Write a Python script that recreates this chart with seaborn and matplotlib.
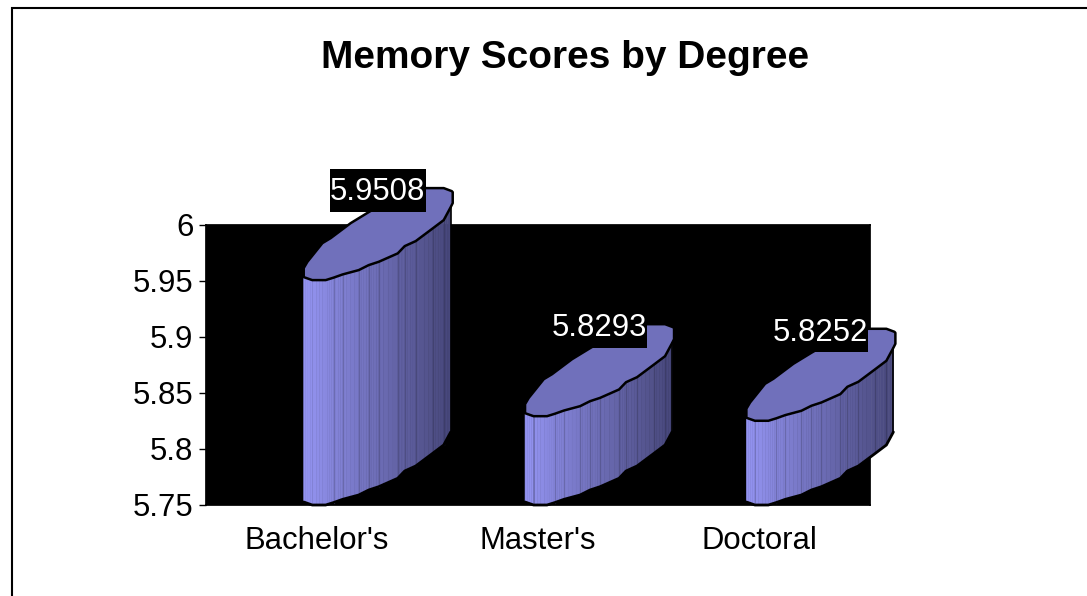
import matplotlib
matplotlib.use('Agg')

import matplotlib.pyplot as plt
from matplotlib.patches import Polygon, Rectangle
from matplotlib.colors import to_rgb
import numpy as np
import pandas as pd
import seaborn as sns

degrees = ["Bachelor's", "Master's", "Doctoral"]
scores = [5.9508, 5.8293, 5.8252]
score_labels = ["5.9508", "5.8293", "5.8252"]
y_ticks = [5.75, 5.8, 5.85, 5.9, 5.95, 6]
y_tick_labels = ["5.75", "5.8", "5.85", "5.9", "5.95", "6"]

sns.set_theme(style="white")
plt.rcParams['font.family'] = ['Liberation Sans', 'DejaVu Sans']

W, H = 1087, 596
fig = plt.figure(figsize=(W / 100, H / 100), dpi=100, facecolor='white')
ax = fig.add_axes([206 / W, 1 - 505 / H, 664 / W, 280 / H])

df = pd.DataFrame({"degree": degrees, "score": scores})
sns.barplot(data=df, x="degree", y="score", color="black", saturation=1, width=0.66, linewidth=0, edgecolor="black", ax=ax)
ax.set_xlim(-0.5, 2.5)
ax.set_ylim(5.75, 6)
ax.set_facecolor('black')
ax.set_xlabel("")
ax.set_ylabel("")
ax.set_yticks(y_ticks, y_tick_labels)
ax.tick_params(axis='y', left=True, length=5, width=1, color='black', labelsize=22.4, pad=4, labelcolor='black')
ax.tick_params(axis='x', bottom=False, labelsize=22.4, pad=9, labelcolor='black')
for s in ax.spines.values():
    s.set_color('black')

# pixel sizes -> data units
px_x = 3 / 664
px_y = 0.25 / 280

# outline of the skewed "cylinder", in px from the bar's front-left corner
front_dx = np.array([0, 8.5, 22, 30, 39, 55, 65, 75, 94, 101, 112, 129, 140, 147])
front_up = np.array([3, 0, 0, 2.5, 5.7, 10, 15, 18.3, 26.7, 34, 39, 51.7, 60, 73])
back_dx = np.array([149, 149, 148, 140, 122, 103, 77, 65, 47, 27, 18.7, 3.7, 0, 0])
back_up = np.array([77, 88, 89, 92, 92, 87, 75, 68, 57, 42, 37, 18.3, 12, 3])

light = np.array(to_rgb('#9494f2'))
dark = np.array(to_rgb('#47477a'))
shift = 60 / 221  # the 3D body sits to the right of the category centre
n_sub = 4  # each facet gets a few shades so it reads as a gradient

for bar, label in zip(ax.patches, score_labels):
    left = bar.get_x() + shift
    top = bar.get_height()
    base = ax.get_ylim()[0]
    fx = left + front_dx * px_x
    top_y = top + front_up * px_y
    bottom_y = base + front_up * px_y

    # side wall
    for i in range(len(fx) - 1):
        for j in range(n_sub):
            a, b = j / n_sub, (j + 1) / n_sub
            x0, x1 = fx[i] + a * (fx[i + 1] - fx[i]), fx[i] + b * (fx[i + 1] - fx[i])
            t0, t1 = top_y[i] + a * (top_y[i + 1] - top_y[i]), top_y[i] + b * (top_y[i + 1] - top_y[i])
            b0, b1 = bottom_y[i] + a * (bottom_y[i + 1] - bottom_y[i]), bottom_y[i] + b * (bottom_y[i + 1] - bottom_y[i])
            t = ((x0 + x1) / 2 - left) / (px_x * front_dx[-1])
            c = light * (1 - t) + dark * t
            ax.add_patch(Polygon([(x0, b0), (x1, b1), (x1, t1), (x0, t0)], facecolor=c, edgecolor=c, lw=0.4, clip_on=False, zorder=3))
        if i > 2:
            t = front_dx[i] / front_dx[-1]
            c = (light * (1 - t) + dark * t) * 0.82
            ax.plot([fx[i], fx[i]], [bottom_y[i], top_y[i]], color=c, lw=0.9, clip_on=False, zorder=4)

    # top face
    bx = left + back_dx * px_x
    by = top + back_up * px_y
    top_pts = list(zip(fx, top_y)) + list(zip(bx, by))
    ax.add_patch(Polygon(top_pts, closed=True, facecolor='#7070bb', edgecolor='black', lw=1.8, clip_on=False, zorder=5, joinstyle='round'))

    # silhouette below the top face
    ax.plot(fx, bottom_y, color='black', lw=2, clip_on=False, zorder=5)
    ax.plot([fx[-1], fx[-1]], [bottom_y[-1], top_y[-1]], color='black', lw=1.2, clip_on=False, zorder=5)

    # data label on its black box
    cx = left + 74 * px_x
    cy = top + 90 * px_y
    ax.add_patch(Rectangle((cx - 48 * px_x, cy - 21.5 * px_y), 96 * px_x, 43 * px_y, facecolor='black', edgecolor='none', clip_on=False, zorder=6))
    ax.text(cx, cy - 2 * px_y, label, color='white', fontsize=22.4, ha='center', va='center', zorder=7)

fig.text(565 / W, 1 - 58.5 / H, "Memory Scores by Degree", fontsize=28, fontweight='bold', color='black', ha='center', va='center')

# chart area border, runs off the right and bottom of the image
fig.add_artist(Rectangle((11.5 / W, -0.05), 1.1, 1 - 7.5 / H + 0.05, transform=fig.transFigure, facecolor='none', edgecolor='black', lw=1.5))

fig.savefig('out.png', dpi=100, facecolor='white')
